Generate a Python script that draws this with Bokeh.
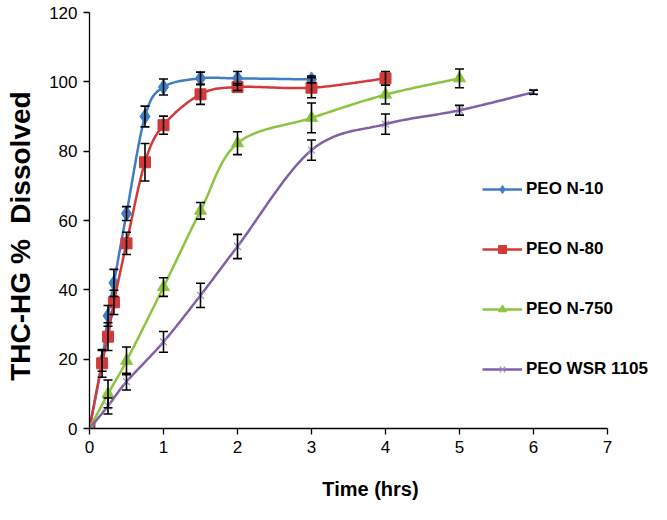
import numpy as np
from bokeh.plotting import figure
from bokeh.models import (Range1d, Whisker, TeeHead, ColumnDataSource, Legend,
                          LegendItem, FixedTicker)
from bokeh.embed import file_html
from bokeh.resources import INLINE

# ---- data ----
series_names = ["PEO N-10", "PEO N-80", "PEO N-750", "PEO WSR 1105"]

time_n10 = [0, 0.17, 0.25, 0.33, 0.5, 0.75, 1, 1.5, 2, 3]
diss_n10 = [0, 19.5, 32.5, 42, 62, 90, 98.5, 101, 101, 100.7]
err_n10 = [0, 3, 3, 3.9, 2, 3, 2.3, 1.8, 2, 1]

time_n80 = [0, 0.17, 0.25, 0.33, 0.5, 0.75, 1, 1.5, 2, 3, 4]
diss_n80 = [0, 18.8, 26.5, 36.4, 53.4, 76.8, 87.5, 96.4, 98.5, 98.3, 101]
err_n80 = [0, 4, 4, 3.5, 3.2, 5.4, 2.6, 2.9, 1, 2.9, 2]

time_n750 = [0, 0.25, 0.5, 1, 1.5, 2, 3, 4, 5]
diss_n750 = [0, 10, 19.5, 40.8, 62.8, 82.3, 89.6, 96.3, 101]
err_n750 = [0, 4, 4, 2.7, 2.4, 3.3, 4.3, 2.7, 2.7]

time_wsr = [0, 0.25, 0.5, 1, 1.5, 2, 3, 4, 5, 6]
diss_wsr = [0, 6.5, 13.5, 25, 38.4, 52.5, 80.3, 87.8, 91.8, 97.0]
err_wsr = [0, 2.3, 2.4, 3, 3.5, 3.5, 2.9, 2.9, 1.4, 0.6]

x_ticks = [0, 1, 2, 3, 4, 5, 6, 7]
y_ticks = [0, 20, 40, 60, 80, 100, 120]

FONT = "Liberation Sans"


def smooth(xs, ys, n=24):
    """Excel-style smoothed line (Bezier through points, Catmull-Rom control points)."""
    P = np.column_stack([np.asarray(xs, float), np.asarray(ys, float)])
    out = [P[0]]
    t = np.linspace(0, 1, n)[1:, None]
    for i in range(len(P) - 1):
        p0 = P[i - 1] if i > 0 else P[i]
        p1, p2 = P[i], P[i + 1]
        p3 = P[i + 2] if i + 2 < len(P) else P[i + 1]
        c1 = p1 + (p2 - p0) / 6.0
        c2 = p2 - (p3 - p1) / 6.0
        B = (1 - t) ** 3 * p1 + 3 * (1 - t) ** 2 * t * c1 + 3 * (1 - t) * t ** 2 * c2 + t ** 3 * p2
        out.extend(B)
    out = np.array(out)
    return out[:, 0], out[:, 1]


# layout: frame spans to the right edge so the legend is not clipped;
# the x axis itself stops at 7 (axis bounds)
W, H = 651, 504
LEFT, TOP, BOTTOM = 89, 12, 76
frame_w = W - LEFT
x_end = 7 * frame_w / 518.0

p = figure(width=W, height=H, output_backend="svg", toolbar_location=None,
           x_range=Range1d(0, x_end), y_range=Range1d(0, 120),
           min_border_left=LEFT, min_border_right=0, min_border_top=TOP,
           min_border_bottom=BOTTOM)
p.outline_line_color = None
p.xgrid.grid_line_color = None
p.ygrid.grid_line_color = None
p.background_fill_color = "white"
p.border_fill_color = "white"

for ax in (p.xaxis[0], p.yaxis[0]):
    ax.axis_line_color = "black"
    ax.axis_line_width = 1.3
    ax.major_tick_line_color = "black"
    ax.major_tick_line_width = 1.3
    ax.major_tick_in = 0
    ax.major_tick_out = 6
    ax.minor_tick_line_color = None
    ax.major_label_text_font = FONT
    ax.major_label_text_font_size = "17px"
    ax.major_label_text_color = "black"
    ax.axis_label_text_font = FONT
    ax.axis_label_text_font_style = "bold"
    ax.axis_label_text_color = "black"

p.xaxis.ticker = FixedTicker(ticks=x_ticks)
p.yaxis.ticker = FixedTicker(ticks=y_ticks)
p.xaxis.bounds = (0, 7)
p.yaxis.bounds = (0, 120)
p.xaxis.axis_label = "Time (hrs)"
p.yaxis.axis_label = "THC-HG\u00a0%\u00a0\u00a0Dissolved\u00a0\u00a0\u00a0\u00a0"
p.xaxis.axis_label_text_font_size = "20px"
p.yaxis.axis_label_text_font_size = "28px"
p.xaxis.axis_label_text_line_height = 1.0
p.xaxis.major_label_standoff = 6
p.yaxis.major_label_standoff = 6
p.xaxis.axis_label_standoff = 22
p.yaxis.axis_label_standoff = 10

colors = ["#3F7DC4", "#D23A3A", "#8CC43F", "#7F5FA8"]
markers = ["diamond", "square", "triangle", "x"]
msizes = [15, 11, 12, 10]
data = [(time_n10, diss_n10, err_n10), (time_n80, diss_n80, err_n80),
        (time_n750, diss_n750, err_n750), (time_wsr, diss_wsr, err_wsr)]

items = []
for name, (tx, ty, te), c, m, s in zip(series_names, data, colors, markers, msizes):
    sx, sy = smooth(tx, ty)
    lr = p.line(sx, sy, line_color=c, line_width=2.5)
    if m == "x":
        mr = p.scatter(tx, ty, marker=m, size=s, line_color="#9C8CC8", line_width=1.2)
    else:
        mr = p.scatter(tx, ty, marker=m, size=s, fill_color=c, line_color=c)
    items.append(LegendItem(label=name, renderers=[lr, mr]))
    tx_e = [a for a, e in zip(tx, te) if e > 0]
    up = [b + e for b, e in zip(ty, te) if e > 0]
    lo = [b - e for b, e in zip(ty, te) if e > 0]
    src = ColumnDataSource(dict(t=tx_e, up=up, lo=lo))
    w = Whisker(source=src, base="t", upper="up", lower="lo",
                line_color="black", line_width=1.6,
                upper_head=TeeHead(size=9, line_color="black", line_width=1.6),
                lower_head=TeeHead(size=9, line_color="black", line_width=1.6))
    w.level = "annotation"
    p.add_layout(w)

legend = Legend(items=items, location=(393, 49), orientation="vertical",
                glyph_width=40, glyph_height=20, label_standoff=4, spacing=40,
                padding=0, margin=0, border_line_color=None, background_fill_alpha=0,
                label_text_font=FONT, label_text_font_style="bold",
                label_text_font_size="17px", label_text_color="black",
                label_height=20)
p.add_layout(legend, "center")

open("out.html", "w").write(file_html(p, INLINE))
